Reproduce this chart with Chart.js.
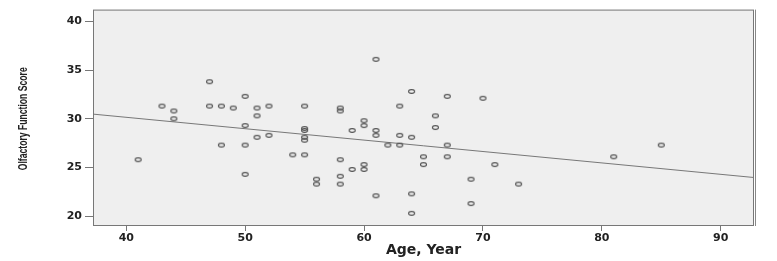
<!DOCTYPE html>
<html>
<head>
<meta charset="utf-8">
<script src="https://cdn.jsdelivr.net/npm/chart.js@4.4.1/dist/chart.umd.min.js"></script>
<style>
  html, body { margin: 0; padding: 0; background: #fff; }
  #wrap { width: 777px; height: 261px; position: relative; }
</style>
</head>
<body>
<div id="wrap"><canvas id="scatterChart"></canvas></div>
<script>
// ages (x) and olfactory scores (y)
const ages = [41, 43, 44, 44, 47, 47, 48, 48, 49, 50, 50, 50, 50, 51, 51, 51,
    52, 52, 54, 55, 55, 55, 55, 55, 55, 56, 56, 58, 58, 58, 58, 58,
    59, 59, 60, 60, 60, 60, 61, 61, 61, 61, 62, 63, 63, 63, 64, 64,
    64, 64, 65, 65, 66, 66, 67, 67, 67, 69, 69, 70, 71, 73, 81, 85];
const scores = [25.8, 31.3, 30.8, 30.0, 33.8, 31.3, 31.3, 27.3, 31.1, 32.3, 29.3, 27.3, 24.3, 31.1, 30.3, 28.1,
    31.3, 28.3, 26.3, 31.3, 29.0, 28.8, 28.1, 27.8, 26.3, 23.8, 23.3, 31.1, 30.8, 25.8, 24.1, 23.3,
    28.8, 24.8, 29.8, 29.3, 25.3, 24.8, 36.1, 28.8, 28.3, 22.1, 27.3, 31.3, 28.3, 27.3, 32.8, 28.1,
    22.3, 20.3, 26.1, 25.3, 30.3, 29.1, 32.3, 27.3, 26.1, 23.8, 21.3, 32.1, 25.3, 23.3, 26.1, 27.3];

// fit line
const fitIntercept = 34.83;
const fitSlope = -0.117;

const xTicks = [40, 50, 60, 70, 80, 90];
const yTicks = [20, 25, 30, 35, 40];
const xRange = [37.2, 92.8];
const yRange = [19, 41.2];

const yTitle = 'Olfactory Function Score';

// small open ellipse, like the SPSS markers
function makeMarker() {
    const c = document.createElement('canvas');
    c.width = 9;
    c.height = 7;
    const g = c.getContext('2d');
    g.strokeStyle = '#505050';
    g.lineWidth = 1.1;
    g.beginPath();
    g.ellipse(4.5, 3.5, 3, 1.9, 0, 0, Math.PI * 2);
    g.stroke();
    return c;
}

const plotFrame = {
    id: 'plotFrame',
    beforeDraw(chart) {
        const a = chart.chartArea;
        const ctx = chart.ctx;
        ctx.save();
        ctx.fillStyle = '#efefef';
        ctx.fillRect(a.left, a.top, a.right - a.left, a.bottom - a.top);
        ctx.restore();
    },
    afterDraw(chart) {
        const a = chart.chartArea;
        const ctx = chart.ctx;
        ctx.save();
        ctx.strokeStyle = '#777';
        ctx.lineWidth = 1;
        ctx.strokeRect(a.left + 0.5, a.top + 0.5, a.right - a.left - 1, a.bottom - a.top - 1);
        ctx.strokeStyle = '#888';
        ctx.beginPath();
        ctx.moveTo(a.right + 1.5, a.top);
        ctx.lineTo(a.right + 1.5, a.bottom);
        ctx.stroke();

        // condensed vertical title, as in the original
        ctx.font = 'bold 13px "Liberation Sans", Arial, sans-serif';
        ctx.fillStyle = '#222';
        ctx.textAlign = 'center';
        ctx.textBaseline = 'middle';
        const w = ctx.measureText(yTitle).width;
        ctx.translate(23, (a.top + a.bottom) / 2 + 1);
        ctx.rotate(-Math.PI / 2);
        ctx.scale(103 / w, 1);
        ctx.fillText(yTitle, 0, 0);
        ctx.restore();
    }
};

const points = ages.map((a, i) => ({ x: a, y: scores[i] }));
const fitLine = xRange.map(x => ({ x: x, y: fitIntercept + fitSlope * x }));

const tickFont = { family: 'DejaVu Sans', size: 11, weight: 'bold' };

const ctx = document.getElementById('scatterChart').getContext('2d');
const scatterChart = new Chart(ctx, {
    type: 'scatter',
    data: {
        datasets: [{
            label: 'Olfactory',
            data: points,
            pointStyle: makeMarker(),
            pointRadius: 3,
            pointHoverRadius: 3
        }, {
            label: 'Fit',
            type: 'line',
            data: fitLine,
            borderColor: '#777',
            borderWidth: 1,
            pointRadius: 0,
            fill: false
        }]
    },
    options: {
        responsive: true,
        maintainAspectRatio: false,
        animation: false,
        events: [],
        layout: { padding: { left: 0, top: 8, right: 23, bottom: 0 } },
        plugins: { legend: { display: false }, tooltip: { enabled: false } },
        scales: {
            x: {
                type: 'linear',
                min: xRange[0],
                max: xRange[1],
                afterBuildTicks: scale => { scale.ticks = xTicks.map(v => ({ value: v })); },
                afterFit: scale => { scale.height = 35; },
                grid: { drawOnChartArea: false, tickLength: 5, color: '#777', tickColor: '#777' },
                border: { display: false },
                ticks: { font: tickFont, color: '#222', padding: 1, maxRotation: 0 },
                title: {
                    display: true,
                    text: 'Age, Year',
                    font: { family: 'DejaVu Sans', size: 14, weight: 'bold' },
                    color: '#222',
                    padding: { top: 0, bottom: 2 }
                }
            },
            y: {
                type: 'linear',
                min: yRange[0],
                max: yRange[1],
                afterBuildTicks: scale => { scale.ticks = yTicks.map(v => ({ value: v })); },
                afterFit: scale => { scale.width = 93; },
                grid: { drawOnChartArea: false, tickLength: 8, color: '#777', tickColor: '#777' },
                border: { display: false },
                ticks: { font: tickFont, color: '#222', padding: 3 },
                title: { display: false }
            }
        }
    },
    plugins: [plotFrame]
});
</script>
</body>
</html>
